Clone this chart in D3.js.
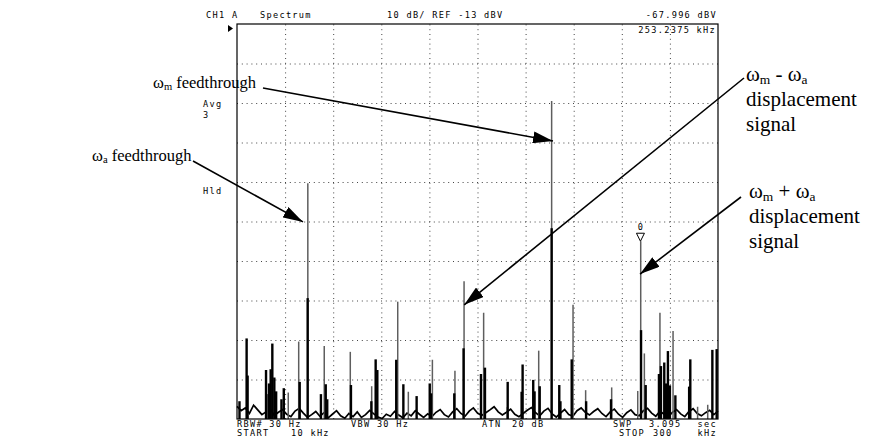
<!DOCTYPE html>
<html>
<head>
<meta charset="utf-8">
<script src="https://cdn.jsdelivr.net/npm/d3@7"></script>
<style>
  body { margin: 0; background: #fff; }
  svg { display: block; }
  .mono { font-family: "DejaVu Sans Mono", monospace; font-size: 8.6px; letter-spacing: 1.3px; fill: #000; white-space: pre; }
  .note { font-family: "Liberation Serif", "Times New Roman", serif; fill: #000; }
  .grid line { stroke: #444; stroke-width: 1; stroke-dasharray: 1 3.8; }
  .grid path { display: none; }
</style>
</head>
<body>
<svg id="chart" width="878" height="446"></svg>
<script>
// sweep settings (kHz, dBV)
const startFreq = 10
const stopFreq = 300
const refLevel = -13
const dbPerDiv = 10
const divisions = 10

// noise floor, one value per 2.5 kHz sweep bin
const noiseStep = 2.5
const noiseDb = [-109.8,-110.9,-110.2,-111.6,-109.5,-110.7,-111.9,-111.2,-110.4,-112.1,
  -111.3,-110.6,-111.8,-112.4,-111.0,-110.3,-111.5,-112.6,-111.9,-111.1,
  -112.3,-111.4,-112.7,-111.8,-110.9,-112.2,-112.8,-111.6,-112.4,-111.2,
  -112.6,-111.9,-110.8,-111.7,-112.5,-112.9,-111.8,-112.3,-111.1,-112.0,
  -112.7,-111.5,-112.2,-110.9,-111.8,-112.6,-111.7,-112.4,-111.3,-110.6,
  -111.9,-112.5,-111.2,-110.4,-111.6,-112.3,-111.0,-110.2,-111.5,-112.1,
  -111.4,-110.7,-109.9,-111.2,-112.0,-111.3,-110.5,-111.8,-112.4,-111.6,
  -110.8,-110.1,-111.4,-112.2,-111.0,-110.3,-111.7,-112.5,-111.5,-110.6,
  -111.9,-112.3,-110.9,-110.2,-111.3,-112.0,-111.1,-110.4,-111.6,-112.4,
  -111.2,-110.5,-111.8,-112.6,-111.4,-110.7,-111.9,-112.2,-110.9,-110.3,
  -111.5,-112.3,-111.0,-111.8,-112.5,-111.3,-110.6,-111.7,-112.4,-111.1,
  -110.4,-111.6,-112.2,-111.4,-110.8,-111.9,-111.0]

// spikes of the gray (thin) trace
const grayFreq = [28.3, 40.9, 47.2, 52.7, 62.6, 78.3, 91.2, 106.9, 113.3, 127.8, 141.4, 146.9, 158.7, 173.0,
  191.9, 199.7, 212.6, 220.2, 235.9, 251.6, 253.4, 255.6, 265.0, 272.9, 287.7, 293.8]
const grayDb = [-106.7, -106.3, -93.4, -53.3, -94.5, -96.0, -104.7, -83.3, -106.1, -98.0, -100.8, -78.1, -86.1, -110.0,
  -95.7, -32.5, -84.1, -105.7, -105.0, -105.9, -68.0, -96.4, -86.1, -90.7, -109.9, -109.4]

// spikes of the black (thick) trace
const blackFreq = [11.5, 15.8, 16.4, 27.5, 29.3, 30.3, 31.3, 32.5, 33.6, 36.8, 38.2, 47.8, 52.6, 60.6, 63.5, 64.4,
  78.7, 91.0, 93.6, 94.6, 106.0, 110.3, 118.3, 126.2, 127.0, 141.0, 146.6, 157.1, 159.5, 173.2, 181.6, 182.2,
  188.6, 189.4, 192.5, 199.7, 204.3, 205.0, 211.8, 220.5, 235.5, 253.6, 256.4, 264.4, 265.6, 267.6, 268.6,
  269.8, 271.0, 274.3, 283.3, 282.6, 296.6, 299.2]
const blackDb = [-108.5, -92.6, -102.0, -100.6, -104.0, -100.4, -93.9, -102.5, -106.0, -108.0, -105.2, -103.6, -82.4, -106.7, -104.2, -108.0,
  -104.4, -108.5, -97.9, -100.6, -98.0, -104.2, -107.2, -104.0, -106.5, -106.5, -95.1, -101.6, -100.0, -103.6, -106.1, -99.2,
  -103.1, -106.0, -104.7, -64.7, -104.4, -108.5, -97.9, -108.5, -108.0, -90.5, -104.4, -101.6, -99.6, -98.7, -104.0,
  -95.8, -104.5, -107.0, -97.9, -104.8, -95.5, -95.3]

// marker readout
const markerFreq = 253.2375
const markerDb = -67.996

// annotations: [text, subscript] pieces, arrow tip in data units, tail in page pixels
const noteFirst = [
  [["ω", 0], ["m", 1], [" feedthrough", 0]],
  [["ω", 0], ["a", 1], [" feedthrough", 0]],
  [["ω", 0], ["m", 1], [" - ", 0], ["ω", 0], ["a", 1]],
  [["ω", 0], ["m", 1], [" + ", 0], ["ω", 0], ["a", 1]]
]
const noteMore = [[], [], ["displacement", "signal"], ["displacement", "signal"]]
const noteSize = [16.5, 16.5, 21, 21]
const notePos = [[153, 88], [92, 161], [746, 81], [749, 198]]
const tipFreq = [200.5, 49.8, 147.0, 253.0]
const tipDb = [-42.6, -63.1, -84.1, -76.3]
const tailXY = [[263, 88], [193, 161], [744, 78], [741, 197]]

const margin = { left: 237, right: 160, top: 24, bottom: 27 }
const width = 878
const height = 446

const svg = d3.select("#chart")
const x = d3.scaleLinear().domain([startFreq, stopFreq]).range([margin.left, width - margin.right])
const y = d3.scaleLinear().domain([refLevel - dbPerDiv * divisions, refLevel]).range([height - margin.bottom, margin.top])
const bottomDb = refLevel - dbPerDiv * divisions

// dotted graticule
const freqDivs = d3.range(1, divisions).map(i => startFreq + i * (stopFreq - startFreq) / divisions)
const dbDivs = d3.range(1, divisions).map(i => refLevel - i * dbPerDiv)
svg.append("g").attr("class", "grid")
  .attr("transform", `translate(0,${y.range()[0]})`)
  .call(d3.axisBottom(x).tickValues(freqDivs).tickSize(-(y.range()[0] - y.range()[1])).tickFormat(""))
svg.append("g").attr("class", "grid")
  .attr("transform", `translate(${x.range()[0]},0)`)
  .call(d3.axisLeft(y).tickValues(dbDivs).tickSize(-(x.range()[1] - x.range()[0])).tickFormat(""))

// noise floor trace
const line = d3.line()
  .x((d, i) => x(startFreq + i * noiseStep))
  .y(d => y(d))
svg.append("path")
  .attr("d", line(noiseDb))
  .attr("fill", "none")
  .attr("stroke", "#000")
  .attr("stroke-width", 1.7)

// spikes
svg.append("g").selectAll("line")
  .data(grayFreq)
  .join("line")
  .attr("x1", d => x(d)).attr("x2", d => x(d))
  .attr("y1", y(bottomDb))
  .attr("y2", (d, i) => y(grayDb[i]))
  .attr("stroke", "#5e5e5e")
  .attr("stroke-width", 1.5)

svg.append("g").selectAll("line")
  .data(blackFreq)
  .join("line")
  .attr("x1", d => x(d)).attr("x2", d => x(d))
  .attr("y1", y(bottomDb))
  .attr("y2", (d, i) => y(blackDb[i]))
  .attr("stroke", "#000")
  .attr("stroke-width", 2.4)

// frame
svg.append("rect")
  .attr("x", x.range()[0]).attr("y", y.range()[1])
  .attr("width", x.range()[1] - x.range()[0])
  .attr("height", y.range()[0] - y.range()[1])
  .attr("fill", "none")
  .attr("stroke", "#000")
  .attr("stroke-width", 1.2)

// reference level pointer
const refY = y(refLevel)
svg.append("path")
  .attr("d", `M${x.range()[0] - 9},${refY + 1} L${x.range()[0] - 4},${refY + 4.5} L${x.range()[0] - 9},${refY + 8} Z`)
  .attr("fill", "#000")

// marker triangle and number
const mx = x(markerFreq)
const my = y(markerDb)
svg.append("path")
  .attr("d", `M${mx - 4},${my - 8} L${mx + 4},${my - 8} L${mx},${my} Z`)
  .attr("fill", "#fff").attr("stroke", "#000").attr("stroke-width", 1)
svg.append("text").attr("class", "mono")
  .attr("x", mx + 0.6).attr("y", my - 11).attr("text-anchor", "middle")
  .text("0")

// instrument texts
const monoTexts = [
  ["CH1 A", 206, 18, "start"], ["Spectrum", 260, 18, "start"], ["10 dB/ REF -13 dBV", 387, 18, "start"],
  [`${markerDb.toFixed(3)} dBV`, 717, 18, "end"], [`${markerFreq} kHz`, 716, 33, "end"],
  ["Avg", 203, 107, "start"], ["3", 203, 118, "start"], ["Hld", 203, 194, "start"],
  ["RBW# 30 Hz", 237, 427, "start"], ["VBW 30 Hz", 351, 427, "start"], ["ATN", 482, 427, "start"],
  ["20 dB", 512, 427, "start"], ["SWP", 613, 427, "start"], ["3.095", 649, 427, "start"], ["sec", 717, 427, "end"],
  ["START", 237, 435.5, "start"], [`${startFreq} kHz`, 291, 435.5, "start"], ["STOP", 619, 435.5, "start"],
  [`${stopFreq}`, 653, 435.5, "start"], ["kHz", 717, 435.5, "end"]
]
svg.append("g").selectAll("text")
  .data(monoTexts)
  .join("text")
  .attr("class", "mono")
  .attr("x", d => d[1]).attr("y", d => d[2])
  .attr("text-anchor", d => d[3])
  .text(d => d[0])

// arrows
svg.append("defs").append("marker")
  .attr("id", "head")
  .attr("markerUnits", "userSpaceOnUse")
  .attr("markerWidth", 20).attr("markerHeight", 12)
  .attr("refX", 20).attr("refY", 6)
  .attr("orient", "auto")
  .append("path")
  .attr("d", "M0,0 L20,6 L0,12 Z")
  .attr("fill", "#000")

svg.append("g").selectAll("line")
  .data(tipFreq)
  .join("line")
  .attr("x1", (d, i) => tailXY[i][0]).attr("y1", (d, i) => tailXY[i][1])
  .attr("x2", d => x(d)).attr("y2", (d, i) => y(tipDb[i]))
  .attr("stroke", "#000")
  .attr("stroke-width", 1.6)
  .attr("marker-end", "url(#head)")

// annotation labels
noteFirst.forEach((parts, i) => {
  const size = noteSize[i]
  const t = svg.append("text").attr("class", "note")
    .attr("font-size", size)
    .attr("x", notePos[i][0]).attr("y", notePos[i][1])
  let shifted = false
  parts.forEach(([p, sub]) => {
    const drop = size * 0.14
    t.append("tspan")
      .attr("dy", sub ? drop : (shifted ? -drop : 0))
      .attr("font-size", sub ? size * 0.64 : null)
      .text(p)
    shifted = !!sub
  })
  noteMore[i].forEach((s, k) => {
    svg.append("text").attr("class", "note")
      .attr("font-size", size)
      .attr("x", notePos[i][0]).attr("y", notePos[i][1] + (k + 1) * 25)
      .text(s)
  })
})
</script>
</body>
</html>
